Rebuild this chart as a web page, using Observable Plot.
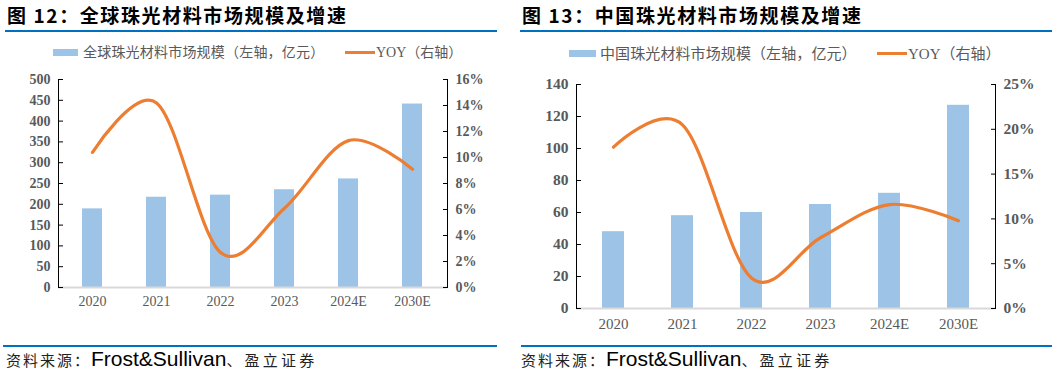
<!DOCTYPE html>
<html><head><meta charset="utf-8">
<script src="https://cdn.jsdelivr.net/npm/d3@7"></script>
<script src="https://cdn.jsdelivr.net/npm/@observablehq/plot@0.6"></script>
<style>
body{margin:0;background:#fff;width:1054px;height:375px;position:relative;overflow:hidden;font-family:"Noto Sans CJK SC",sans-serif;}
.abs{position:absolute;white-space:nowrap;}
.title{font-weight:bold;font-size:19px;color:#000;letter-spacing:1.6px;line-height:1;}
.rule{height:2px;background:#0070C0;}
.leg{color:#595959;line-height:1;}
.src{font-size:15px;color:#222;letter-spacing:2px;line-height:1;}
.src .en{font-family:"Liberation Sans",Arial,sans-serif;font-size:21px;letter-spacing:0;color:#000;}
.src .tail{letter-spacing:3.2px;}
.yoy{font-family:"Liberation Serif",serif;}
</style></head><body>
<script>
const years = ["2020","2021","2022","2023","2024E","2030E"];
const globalSize = [189,217,222,235,261,441];
const globalYoy = [10.4,14.2,2.7,6.1,11.3,9.1];
const chinaSize = [48,58,60,65,72,127];
const chinaYoy = [18.0,20.5,3.4,7.9,11.6,9.8];
const globalTicks = [0,50,100,150,200,250,300,350,400,450,500];
const globalPctTicks = [0,2,4,6,8,10,12,14,16];
const chinaTicks = [0,20,40,60,80,100,120,140];
const chinaPctTicks = [0,5,10,15,20,25];
const titles = ["图 12：全球珠光材料市场规模及增速","图 13：中国珠光材料市场规模及增速"];
const legendBars = ["全球珠光材料市场规模（左轴，亿元）","中国珠光材料市场规模（左轴，亿元）"];
const legendLine = "YOY（右轴）";
const sourceCn = "资料来源：";
const sourceEn = "Frost&Sullivan";
const sourceTail = "、盈立证券";

function el(html, style, cls){
  const d=document.createElement("div");
  d.className="abs "+(cls||"");
  d.innerHTML=html;
  Object.assign(d.style,style);
  document.body.appendChild(d);
  return d;
}

function chart(o){
  const k = o.yMax/o.rMax;
  const data = years.map((y,i)=>({year:y,size:o.size[i],yoy:o.yoy[i]*k}));
  const svg = Plot.plot({
    width:o.width,height:o.height,
    marginLeft:o.ml,marginRight:o.mr,marginTop:o.mt,marginBottom:o.mb,
    style:{fontFamily:'"Liberation Serif","Times New Roman",serif',background:"transparent",overflow:"visible"},
    x:{domain:years,paddingInner:0.68,paddingOuter:0.34,label:null},
    y:{domain:[0,o.yMax],label:null},
    marks:[
      Plot.barY(data,{x:"year",y:"size",fill:"#9DC3E6"}),
      Plot.ruleY([0],{stroke:"#d9d9d9",strokeWidth:2}),
      Plot.frame({anchor:"left",stroke:"#000"}),
      Plot.frame({anchor:"right",stroke:"#000"}),
      Plot.line(data,{x:"year",y:"yoy",stroke:"#ED7D31",strokeWidth:3.2,curve:"cardinal"}),
      Plot.axisY({anchor:"left",ticks:o.yTicks,tickSize:-5,tickPadding:o.tp+10,label:null,
        fontWeight:"bold",fill:"#595959",stroke:"#000",fontSize:o.tf}),
      Plot.axisY({anchor:"right",ticks:o.rTicks.map(v=>v*k),tickFormat:d=>Math.round(d/k)+"%",
        tickSize:-5,tickPadding:o.tp+10,label:null,fontWeight:"bold",fill:"#595959",stroke:"#000",fontSize:o.tf}),
      Plot.axisX({tickSize:0,tickPadding:o.xp,label:null,fill:"#595959",fontSize:o.xf})
    ]
  });
  svg.style.position="absolute";
  svg.style.left=o.left+"px";
  svg.style.top=o.top+"px";
  document.body.appendChild(svg);
}

// Left panel
el(titles[0],{left:"7px",top:"5px"},"title");
el("",{left:"5px",top:"30px",width:"492px"},"rule");
el("",{left:"53px",top:"49px",width:"25px",height:"7px",background:"#9DC3E6"});
el(legendBars[0],{left:"83px",top:"44px",fontSize:"14px",letterSpacing:"0.2px"},"leg");
el("",{left:"345px",top:"51px",width:"30px",height:"3px",background:"#ED7D31"});
el('<span class="yoy">YOY</span>（右轴）',{left:"376px",top:"44px",fontSize:"14px"},"leg");
chart({size:globalSize,yoy:globalYoy,yMax:500,rMax:16,yTicks:globalTicks,rTicks:globalPctTicks,
  left:0,top:60,width:520,height:260,ml:58,mr:73,mt:19,mb:33,tf:14,xf:14,tp:3,xp:9});
el("",{left:"3px",top:"345px",width:"494px",height:"2px",background:"#0070C0"});
el(sourceCn+'<span class="en">'+sourceEn+'</span><span class="tail">'+sourceTail+'</span>',{left:"6px",top:"348px"},"src");

// Right panel
el(titles[1],{left:"522px",top:"5px"},"title");
el("",{left:"520px",top:"30px",width:"532px"},"rule");
el("",{left:"569px",top:"50px",width:"27px",height:"7px",background:"#9DC3E6"});
el(legendBars[1],{left:"600px",top:"45px",fontSize:"15px",letterSpacing:"0.1px"},"leg");
el("",{left:"877px",top:"52px",width:"30px",height:"3px",background:"#ED7D31"});
el('<span class="yoy">YOY</span>（右轴）',{left:"908px",top:"45px",fontSize:"15px"},"leg");
chart({size:chinaSize,yoy:chinaYoy,yMax:140,rMax:25,yTicks:chinaTicks,rTicks:chinaPctTicks,
  left:520,top:60,width:534,height:275,ml:56,mr:59,mt:24,mb:27,tf:15.5,xf:15,tp:3,xp:10});
el("",{left:"521px",top:"345px",width:"531px",height:"2px",background:"#0070C0"});
el(sourceCn+'<span class="en">'+sourceEn+'</span><span class="tail">'+sourceTail+'</span>',{left:"521px",top:"348px"},"src");
</script>
</body></html>
